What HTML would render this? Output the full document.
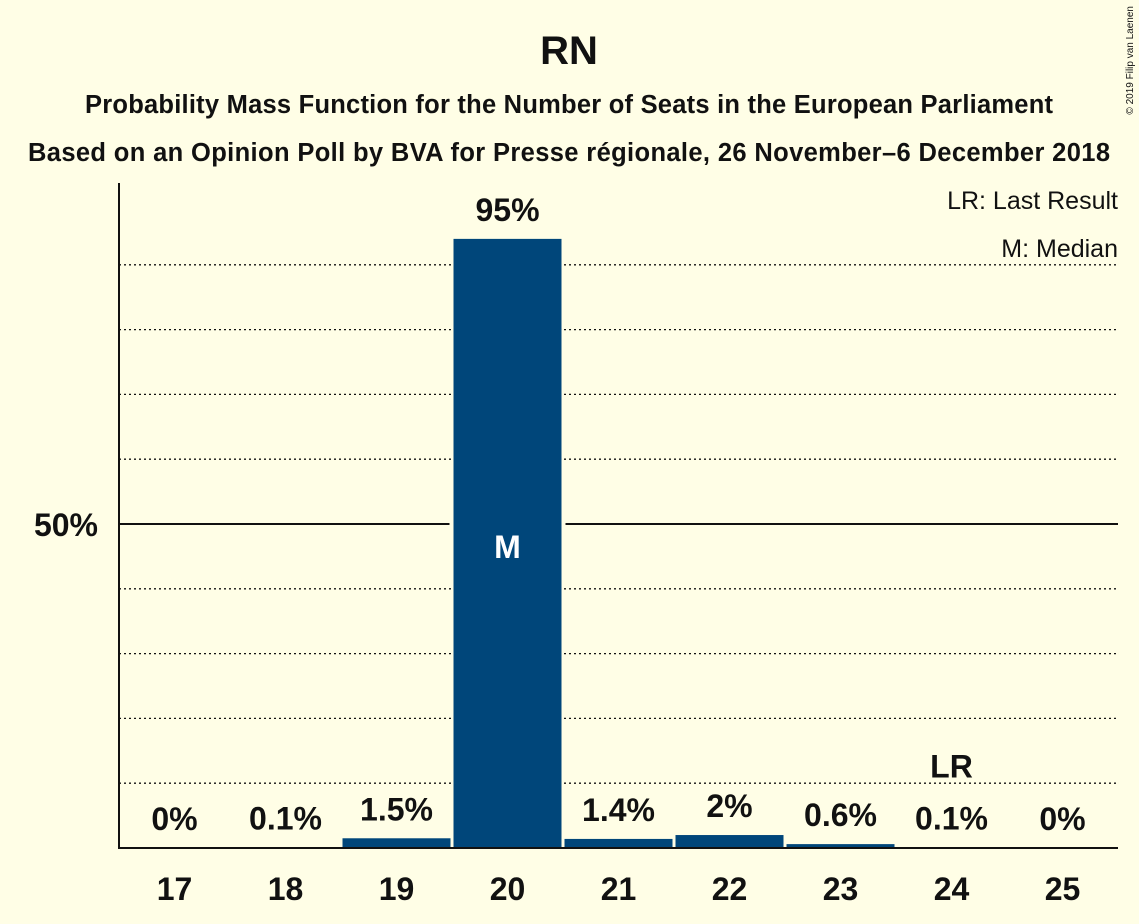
<!DOCTYPE html>
<html><head><meta charset="utf-8"><style>
body{margin:0;background:#FFFEE6;}
svg{display:block;font-family:"Liberation Sans",sans-serif;font-weight:bold;}
</style></head><body>
<svg id="chart" width="1139" height="924">
<rect width="1139" height="924" fill="#FFFEE6"/>
<text x="569" y="64" text-anchor="middle" font-size="40" fill="#111">RN</text>
<text x="569" y="113" text-anchor="middle" font-size="25.5" textLength="968" fill="#111">Probability Mass Function for the Number of Seats in the European Parliament</text>
<text x="569" y="161" text-anchor="middle" font-size="25.5" textLength="1082" fill="#111">Based on an Opinion Poll by BVA for Presse régionale, 26 November–6 December 2018</text>
<text x="1133" y="6" font-size="10" font-weight="normal" fill="#111" transform="rotate(-90 1133 6)" text-anchor="end">© 2019 Filip van Laenen</text>
<text x="1118" y="209" text-anchor="end" font-size="25" font-weight="normal" fill="#111">LR: Last Result</text>
<text x="1118" y="257" text-anchor="end" font-size="25" font-weight="normal" fill="#111">M: Median</text>
<g id="grid"></g>
<g id="gaps"></g>
<g id="bars"></g>
<g id="labels"></g>
<line x1="119" y1="183" x2="119" y2="849" stroke="#111" stroke-width="2"/>
<line x1="118" y1="848" x2="1118" y2="848" stroke="#111" stroke-width="2"/>
<text x="98" y="536" text-anchor="end" font-size="32" fill="#111">50%</text>
</svg>
<script>
const seats=[17,18,19,20,21,22,23,24,25];
const probs=[0,0.1,1.5,94,1.4,2,0.6,0.1,0];
const printed=["0%","0.1%","1.5%","95%","1.4%","2%","0.6%","0.1%","0%"];
const median=20, lastResult=24;
const gridTicks=[10,20,30,40,50,60,70,80,90];
const NS="http://www.w3.org/2000/svg";
const x0=119, step=111, base=848, pxPer=6.48;
const xc=i=>x0+step*(i+0.5);
const y=v=>base-v*pxPer;
const grid=document.getElementById('grid'),gaps=document.getElementById('gaps'),bars=document.getElementById('bars'),labels=document.getElementById('labels');
function mk(tag,attrs,parent){const e=document.createElementNS(NS,tag);for(const k in attrs)e.setAttribute(k,attrs[k]);parent.appendChild(e);return e;}
gridTicks.forEach(t=>{
  const l=mk('line',{x1:119,x2:1118,y1:y(t),y2:y(t),stroke:'#111','stroke-width':t===50?2:1.3,'stroke-dasharray':t===50?'none':'2,3'},grid);
  
  
});
seats.forEach((s,i)=>{
  const h=probs[i]*pxPer;
  if(s===median){
    const bg=mk('rect',{x:xc(i)-58,y:y(50)-4,width:116,height:8,fill:'#FFFEE6'},gaps);
    
    
  }
  const r=mk('rect',{x:xc(i)-54,y:base-h,width:108,height:h,fill:'#00467A'},bars);
  
  
  const tx=mk('text',{x:xc(i),y:y(probs[i])-18,'text-anchor':'middle','font-size':32,fill:'#111'},labels);
  tx.textContent=printed[i];
  
  
  const xl=mk('text',{x:xc(i),y:900,'text-anchor':'middle','font-size':32,fill:'#111'},labels);
  xl.textContent=s;
  
  
  if(s===median){
    const m=mk('text',{x:xc(i),y:y(50)+34,'text-anchor':'middle','font-size':32,fill:'#fff'},labels);
    m.textContent='M';
    
    
  }
  if(s===lastResult){
    const lr=mk('text',{x:xc(i),y:y(probs[i])-70,'text-anchor':'middle','font-size':32,fill:'#111'},labels);
    lr.textContent='LR';
    
    
  }
});
</script>
</body></html>
